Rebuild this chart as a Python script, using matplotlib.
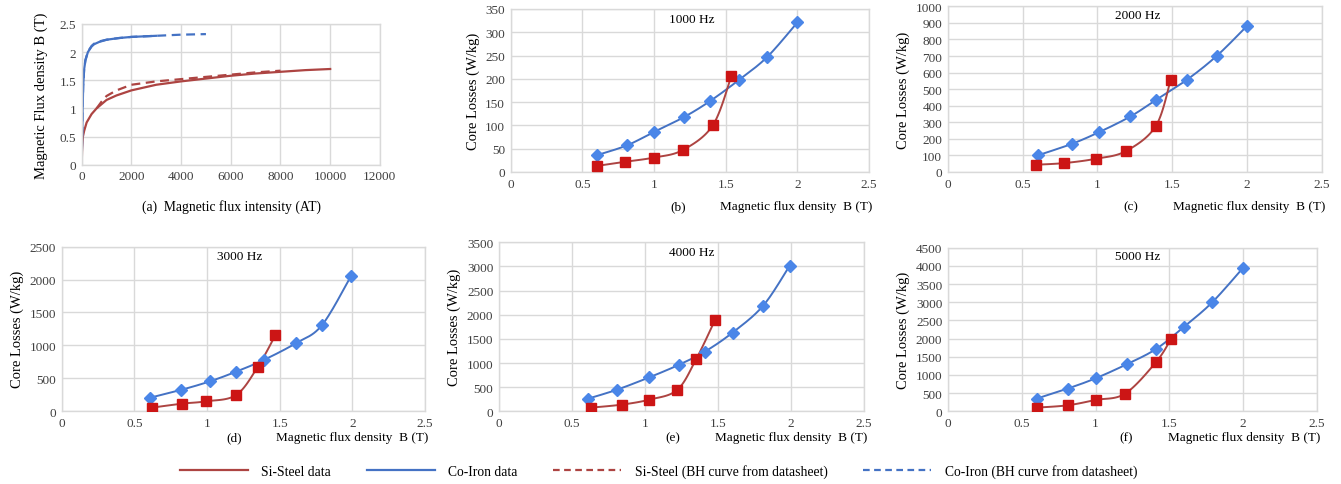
import numpy as np
import matplotlib
matplotlib.use("Agg")
import matplotlib.pyplot as plt
from matplotlib.lines import Line2D
from matplotlib.ticker import FuncFormatter, MultipleLocator

plt.rcParams['font.family'] = ['Liberation Serif', 'DejaVu Serif']

# ---------------- data ----------------
# (a) BH curves
co_H = [0, 20, 40, 60, 100, 150, 250, 400, 500, 700, 1000, 1500, 2000, 2500, 3000]
co_B = [0, 0.5, 1.0, 1.4, 1.7, 1.85, 2.0, 2.1, 2.14, 2.18, 2.22, 2.25, 2.27, 2.28, 2.29]
co_ds_H = [0, 20, 40, 60, 100, 150, 250, 400, 500, 700, 1000, 1500, 2000, 3000, 4000, 5000]
co_ds_B = [0, 0.5, 1.0, 1.4, 1.7, 1.86, 2.01, 2.11, 2.15, 2.19, 2.22, 2.25, 2.27, 2.29, 2.31, 2.32]
si_H = [0, 20, 50, 100, 200, 400, 600, 1000, 1400, 2000, 3000, 4000, 5000, 6000, 7000, 8000, 9000, 10000]
si_B = [0, 0.3, 0.5, 0.6, 0.75, 0.9, 1.0, 1.15, 1.23, 1.32, 1.42, 1.48, 1.53, 1.58, 1.62, 1.65, 1.68, 1.70]
si_ds_H = [600, 800, 1000, 1400, 2000, 3000, 4000, 5000, 6000, 7000, 8000]
si_ds_B = [1.0, 1.12, 1.22, 1.32, 1.42, 1.48, 1.52, 1.56, 1.60, 1.64, 1.67]

# (b)-(f) core losses
freq_labels = ["1000 Hz", "2000 Hz", "3000 Hz", "4000 Hz", "5000 Hz"]
panel_tags = ["(b)", "(c)", "(d)", "(e)", "(f)"]
y_max = [350, 1000, 2500, 3500, 4500]
y_step = [50, 100, 500, 500, 500]

b_co_B = [0.6, 0.81, 1.0, 1.21, 1.39, 1.59, 1.79, 2.0]
b_co_P = [36, 57, 86, 118, 152, 197, 247, 321]
b_si_B = [0.6, 0.8, 1.0, 1.2, 1.41, 1.54]
b_si_P = [13, 22, 31, 47, 100, 206]

c_co_B = [0.6, 0.83, 1.01, 1.22, 1.39, 1.6, 1.8, 2.0]
c_co_P = [100, 170, 240, 335, 434, 558, 703, 882]
c_si_B = [0.59, 0.78, 0.99, 1.19, 1.39, 1.49]
c_si_P = [44, 54, 80, 126, 277, 558]

d_co_B = [0.61, 0.82, 1.02, 1.2, 1.39, 1.61, 1.79, 1.99]
d_co_P = [203, 320, 451, 598, 776, 1029, 1303, 2049]
d_si_B = [0.62, 0.83, 0.99, 1.2, 1.35, 1.47]
d_si_P = [51, 112, 147, 243, 674, 1151]

e_co_B = [0.61, 0.81, 1.03, 1.23, 1.41, 1.6, 1.81, 1.99]
e_co_P = [262, 449, 704, 960, 1236, 1630, 2189, 3011]
e_si_B = [0.63, 0.84, 1.03, 1.22, 1.35, 1.48]
e_si_P = [76, 138, 242, 442, 1077, 1892]

f_co_B = [0.6, 0.81, 1.0, 1.21, 1.41, 1.6, 1.79, 2.0]
f_co_P = [348, 623, 907, 1292, 1714, 2328, 2997, 3950]
f_si_B = [0.6, 0.81, 1.0, 1.2, 1.41, 1.51]
f_si_P = [101, 165, 312, 486, 1356, 1979]

co_sets = [(b_co_B, b_co_P), (c_co_B, c_co_P), (d_co_B, d_co_P), (e_co_B, e_co_P), (f_co_B, f_co_P)]
si_sets = [(b_si_B, b_si_P), (c_si_B, c_si_P), (d_si_B, d_si_P), (e_si_B, e_si_P), (f_si_B, f_si_P)]

# ---------------- style ----------------
RED_LINE = "#AD4442"
RED_MK = "#CC1515"
BLUE_LINE = "#4472C4"
BLUE_MK = "#4A86E8"
GRID = "#D9D9D9"
TICK = "#404040"
FS = 9.5


def smooth(ax, x, y, n=24):
    """Excel-like smoothed line (Bezier through points, in display-normalised space)."""
    x0, x1 = ax.get_xlim()
    y0, y1 = ax.get_ylim()
    w = ax.get_position().width
    h = ax.get_position().height * 485 / 1341
    px = (np.asarray(x, float) - x0) / (x1 - x0) * w
    py = (np.asarray(y, float) - y0) / (y1 - y0) * h
    P = np.column_stack([px, py])
    m = len(P)
    out = []
    for i in range(m - 1):
        p0 = P[i - 1] if i > 0 else P[i]
        p1 = P[i]
        p2 = P[i + 1]
        p3 = P[i + 2] if i + 2 < m else P[i + 1]
        c1 = p1 + (p2 - p0) / 6.0
        c2 = p2 - (p3 - p1) / 6.0
        t = np.linspace(0, 1, n)[:, None]
        seg = ((1 - t) ** 3) * p1 + 3 * ((1 - t) ** 2) * t * c1 + 3 * (1 - t) * t ** 2 * c2 + t ** 3 * p2
        out.append(seg if i == 0 else seg[1:])
    S = np.vstack(out)
    sx = S[:, 0] / w * (x1 - x0) + x0
    sy = S[:, 1] / h * (y1 - y0) + y0
    return sx, sy


def fmt(v, pos):
    return "%g" % v


def style(ax):
    ax.grid(True, color=GRID, lw=1.0)
    ax.set_axisbelow(True)
    for s in ax.spines.values():
        s.set_color(GRID)
        s.set_linewidth(1.0)
    ax.tick_params(length=0, labelsize=FS, colors=TICK, pad=4)
    ax.xaxis.set_major_formatter(FuncFormatter(fmt))
    ax.yaxis.set_major_formatter(FuncFormatter(fmt))


fig = plt.figure(figsize=(13.41, 4.85), dpi=100)

# ---------------- panel (a) ----------------
axa = fig.add_axes([0.0609, 0.6584, 0.2224, 0.2901])
axa.set_xlim(0, 12000)
axa.set_ylim(0, 2.5)
axa.xaxis.set_major_locator(MultipleLocator(2000))
axa.yaxis.set_major_locator(MultipleLocator(0.5))
style(axa)
axa.plot(si_H, si_B, color=RED_LINE, lw=1.6)
axa.plot(si_ds_H, si_ds_B, color=RED_LINE, lw=1.6, ls=(0, (4, 2.5)))
axa.plot(co_H, co_B, color=BLUE_LINE, lw=1.6)
axa.plot(co_ds_H, co_ds_B, color=BLUE_LINE, lw=1.6, ls=(0, (4, 2.5)))
axa.set_ylabel("Magnetic Flux density B (T)", fontsize=FS + 1, labelpad=8)
fig.text(231 / 1341, 1 - 207 / 485, "(a)  Magnetic flux intensity (AT)", ha="center", va="center", fontsize=FS + 0.3)

# ---------------- panels (b)-(f) ----------------
rects = [
    [0.3808, 0.6433, 0.2672, 0.3361],
    [0.7067, 0.6433, 0.2791, 0.3416],
    [0.0460, 0.1505, 0.2709, 0.3388],
    [0.3721, 0.1499, 0.2722, 0.3485],
    [0.7069, 0.1499, 0.2752, 0.3373],
]
freq_pos = [(0.505, 0.939), (0.508, 0.947), (0.491, 0.945), (0.528, 0.941), (0.514, 0.947)]
label_y = [207, 207, 438, 438, 438]

for k in range(5):
    ax = fig.add_axes(rects[k])
    ax.set_xlim(0, 2.5)
    ax.set_ylim(0, y_max[k])
    ax.xaxis.set_major_locator(MultipleLocator(0.5))
    ax.yaxis.set_major_locator(MultipleLocator(y_step[k]))
    style(ax)
    cx, cy = co_sets[k]
    sx, sy = si_sets[k]
    lx, ly = smooth(ax, cx, cy)
    ax.plot(lx, ly, color=BLUE_LINE, lw=1.4, zorder=2)
    ax.plot(cx, cy, ls="none", marker="D", ms=6, color=BLUE_MK, mec=BLUE_MK, zorder=3)
    lx, ly = smooth(ax, sx, sy)
    ax.plot(lx, ly, color=RED_LINE, lw=1.4, zorder=2)
    ax.plot(sx, sy, ls="none", marker="s", ms=7.5, color=RED_MK, mec=RED_MK, zorder=4)
    ax.set_ylabel("Core Losses (W/kg)", fontsize=FS + 1, labelpad=4)
    ax.text(freq_pos[k][0], freq_pos[k][1], freq_labels[k], transform=ax.transAxes,
            ha="center", va="center", fontsize=FS)
    r = rects[k]
    right_px = (r[0] + r[2]) * 1341
    fig.text((right_px + 3) / 1341, 1 - label_y[k] / 485, "Magnetic flux density  B (T)",
             ha="right", va="center", fontsize=FS)
    fig.text((right_px - 191) / 1341, 1 - label_y[k] / 485, panel_tags[k],
             ha="center", va="center", fontsize=FS)

# ---------------- legend ----------------
handles = [
    Line2D([], [], color=RED_LINE, lw=1.6),
    Line2D([], [], color=BLUE_LINE, lw=1.6),
    Line2D([], [], color=RED_LINE, lw=1.6, ls=(0, (3, 2))),
    Line2D([], [], color=BLUE_LINE, lw=1.6, ls=(0, (3, 2))),
]
labels = ["Si-Steel data", "Co-Iron data", "Si-Steel (BH curve from datasheet)", "Co-Iron (BH curve from datasheet)"]
fig.legend(handles, labels, loc="center", bbox_to_anchor=(0.491, 0.027), ncol=4, frameon=False,
           fontsize=FS + 0.3, handlelength=5.0, handletextpad=1.0, columnspacing=2.6)

fig.savefig("out.png", dpi=100)
